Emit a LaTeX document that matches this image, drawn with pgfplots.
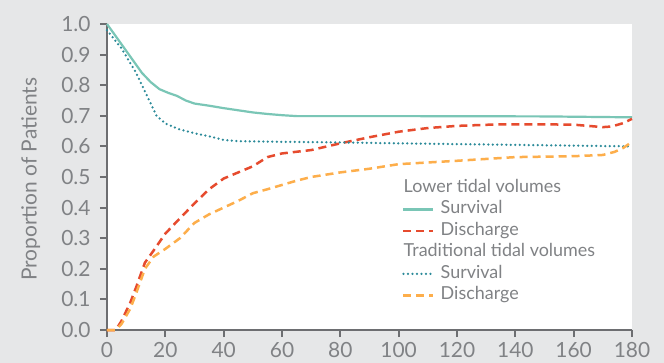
\documentclass[border=0pt]{standalone}
\usepackage{fontspec}
\setmainfont{Lato}
\usepackage{pgfplots}
\pgfplotsset{compat=1.18}
\definecolor{bg}{HTML}{E6E7E8}
\definecolor{txt}{HTML}{808285}
\definecolor{axc}{HTML}{6D6E71}
\definecolor{tealA}{HTML}{7AC6B6}
\definecolor{tealB}{HTML}{2B8A99}
\definecolor{redA}{HTML}{E64B2E}
\definecolor{orA}{HTML}{FDAE4B}
\begin{document}
\begin{tikzpicture}
\useasboundingbox (-107bp,-33bp) rectangle (557bp,330bp);
\fill[bg] (-107bp,-33bp) rectangle (557bp,330bp);
\begin{axis}[
  at={(0,0)}, anchor=south west,
  scale only axis, width=525bp, height=306bp,
  xmin=0, xmax=180, ymin=0, ymax=1,
  xtick={0,20,...,180}, ytick={0,0.1,...,1.0},
  axis lines*=left,
  axis line style={axc, line width=2.5bp},
  tick style={axc, line width=2bp},
  tick align=outside, major tick length=7bp,
  axis background/.style={fill=white},
  /pgf/number format/assume math mode=true,
  tick label style={font=\fontsize{21}{24}\selectfont, text=txt},
  yticklabel style={xshift=-6bp, /pgf/number format/.cd, fixed, fixed zerofill, precision=1},
  xticklabel style={yshift=-2bp},
  ylabel={Proportion of Patients},
  every axis y label/.style={at={(axis description cs:-0.145,0.493)}, rotate=90, anchor=center,
    font=\fontsize{21}{24}\selectfont, text=txt},
  clip=false,
  legend cell align=left,
  legend style={at={(0.562,0.5)}, anchor=north west, draw=none, fill=none,
    font=\fontsize{18}{21}\selectfont, text=txt, row sep=0pt, column sep=4bp, inner sep=0pt,
    nodes={text height=13bp, text depth=4.5bp, inner sep=2bp}},
  legend image code/.code={\draw[#1] (0bp,0bp) -- (30bp,0bp);},
]
\addlegendimage{empty legend}
\addlegendentry{\hspace*{-37bp}Lower tidal volumes}
\addplot[tealA, line width=2.2bp] coordinates {
(0,1.0)(3,0.96)(6,0.92)(9,0.88)(12,0.84)(15,0.81)(18,0.787)(21,0.775)(24,0.765)(27,0.75)(30,0.74)(35,0.733)(40,0.725)(45,0.718)(50,0.711)(55,0.706)(60,0.702)(65,0.699)(100,0.699)(150,0.698)(180,0.695)};
\addlegendentry{Survival}
\addplot[redA, line width=2.5bp, dash pattern=on 8bp off 5bp] coordinates {
(0,0)(3,0)(5,0.03)(8,0.09)(10,0.14)(13,0.22)(16,0.26)(20,0.315)(25,0.365)(30,0.414)(35,0.46)(40,0.495)(45,0.515)(50,0.535)(55,0.565)(60,0.577)(70,0.588)(80,0.61)(90,0.63)(100,0.648)(110,0.66)(120,0.667)(134,0.672)(150,0.672)(160,0.671)(165,0.667)(170,0.663)(173,0.665)(177,0.676)(180,0.69)};
\addlegendentry{Discharge}
\addlegendimage{empty legend}
\addlegendentry{\hspace*{-37bp}Traditional tidal volumes}
\addplot[tealB, line width=2.5bp, dash pattern=on 0bp off 4.5bp, line cap=round] coordinates {
(0,0.98)(5,0.92)(10,0.84)(14,0.76)(17,0.70)(20,0.675)(25,0.655)(30,0.643)(35,0.633)(40,0.621)(45,0.617)(60,0.615)(80,0.613)(100,0.61)(140,0.605)(180,0.60)};
\addlegendentry{Survival}
\addplot[orA, line width=2.5bp, dash pattern=on 8bp off 5bp] coordinates {
(0,0)(3,0)(5,0.02)(8,0.07)(10,0.12)(13,0.2)(16,0.24)(20,0.265)(25,0.30)(30,0.35)(35,0.378)(40,0.40)(45,0.422)(50,0.447)(55,0.46)(60,0.474)(65,0.488)(70,0.50)(80,0.515)(90,0.527)(100,0.542)(120,0.553)(140,0.565)(160,0.568)(170,0.572)(174,0.582)(177,0.595)(180,0.615)};
\addlegendentry{Discharge}
\end{axis}
\end{tikzpicture}
\end{document}
